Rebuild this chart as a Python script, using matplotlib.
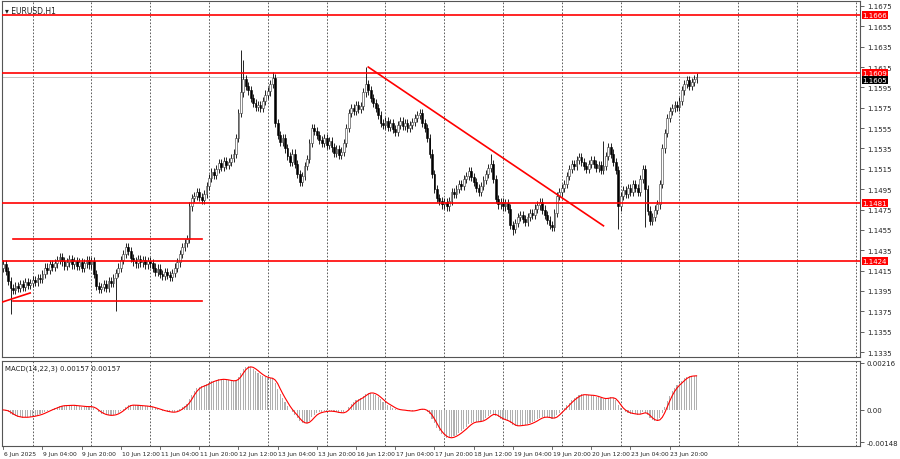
import matplotlib
matplotlib.use("Agg")
import matplotlib.pyplot as plt
import numpy as np
import pandas as pd

closes = [1.1421,1.1415,1.1405,1.1398,1.1396,
1.1400,1.1398,1.1402,1.1399,1.1404,1.1401,1.1403,
1.1406,1.1404,1.1408,1.1407,1.1412,
1.1418,1.1416,1.1421,1.1419,1.1422,1.1425,
1.1428,1.1424,1.1420,1.1423,
1.1426,1.1421,1.1424,1.1420,1.1423,1.1418,1.1422,1.1425,1.1421,1.1424,
1.1412,1.1400,1.1397,1.1399,
1.1402,1.1398,1.1405,1.1403,1.1408,
1.1413,1.1418,1.1425,1.1431,
1.1438,1.1434,1.1427,1.1424,
1.1422,1.1426,1.1423,1.1425,1.1421,1.1424,1.1422,
1.1418,1.1414,1.1417,1.1412,1.1410,1.1414,
1.1411,1.1409,1.1413,1.1418,1.1423,
1.1431,1.1438,1.1442,1.1446,
1.1478,1.1486,1.1488,
1.1492,1.1487,1.1484,1.1490,
1.1498,1.1506,1.1512,1.1509,
1.1515,1.1521,1.1517,1.1523,
1.1519,1.1522,1.1526,1.1530,
1.1545,1.1570,1.1590,
1.1603,1.1596,1.1592,
1.1585,1.1580,1.1576,1.1578,
1.1575,1.1582,1.1588,1.1591,
1.1598,1.1604,
1.1560,1.1548,1.1541,
1.1545,1.1535,1.1528,1.1522,
1.1530,1.1520,1.1510,1.1502,
1.1508,1.1518,1.1525,
1.1540,1.1555,1.1552,
1.1548,1.1543,1.1540,1.1545,1.1538,
1.1542,1.1536,1.1531,1.1534,1.1529,
1.1532,1.1540,1.1555,1.1570,
1.1575,1.1572,1.1578,1.1574,1.1577,
1.1590,1.1598,
1.1592,1.1585,1.1580,1.1575,
1.1568,1.1560,1.1558,
1.1562,1.1556,1.1560,1.1554,1.1551,
1.1558,1.1562,1.1557,1.1560,1.1555,1.1558,
1.1561,1.1565,1.1568,1.1570,
1.1560,1.1555,1.1545,
1.1530,1.1510,1.1495,
1.1486,1.1483,1.1480,1.1482,
1.1478,1.1483,1.1492,1.1490,1.1495,
1.1500,1.1498,1.1505,1.1508,
1.1513,1.1507,1.1502,1.1496,
1.1492,1.1498,1.1504,
1.1510,1.1516,1.1520,
1.1505,1.1485,1.1480,
1.1482,1.1478,1.1481,1.1476,
1.1460,1.1456,1.1462,
1.1468,1.1470,1.1466,1.1463,
1.1468,1.1472,1.1470,1.1476,
1.1479,1.1482,1.1475,
1.1470,1.1465,1.1460,1.1458,
1.1472,1.1488,1.1492,
1.1496,1.1500,1.1508,
1.1515,1.1520,1.1518,
1.1524,1.1527,1.1522,
1.1518,1.1515,1.1520,1.1524,
1.1520,1.1516,1.1519,1.1514,
1.1518,1.1528,1.1536,
1.1530,1.1522,1.1514,
1.1478,1.1488,1.1494,
1.1490,1.1496,1.1492,
1.1500,1.1496,1.1492,
1.1505,1.1515,1.1495,
1.1474,1.1464,1.1468,
1.1475,1.1480,1.1500,
1.1535,1.1550,1.1565,
1.1572,1.1575,1.1578,
1.1576,1.1582,1.1592,
1.1598,1.1602,1.1596,
1.1600,1.1603,1.1605]
first_open = 1.1418
wick = 0.0004
notable_highs = {97: 1.1632, 98: 1.1622, 110: 1.1610, 148: 1.1615, 199: 1.1530, 245: 1.1542}
notable_lows = {3: 1.1372, 46: 1.1375, 208: 1.1450, 262: 1.1458, 251: 1.1456}

levels = [1.1666, 1.1609, 1.1481, 1.1424]
range_lines = [1.1446, 1.1385]
range_span = (4, 81)
trend = [(149, 1.1615), (245, 1.1459)]
last_price = 1.1605
price_ticks = [1.1675,1.1655,1.1635,1.1615,1.1595,1.1575,1.1555,1.1535,1.1515,1.1495,1.1475,1.1455,1.1435,1.1415,1.1395,1.1375,1.1355,1.1335]
time_labels = ["6 Jun 2025","9 Jun 04:00","9 Jun 20:00","10 Jun 12:00","11 Jun 04:00","11 Jun 20:00",
               "12 Jun 12:00","13 Jun 04:00","13 Jun 20:00","16 Jun 12:00","17 Jun 04:00","17 Jun 20:00",
               "18 Jun 12:00","19 Jun 04:00","19 Jun 20:00","20 Jun 12:00","23 Jun 04:00","23 Jun 20:00"]

c = np.array(closes)
n = len(c)
o = np.concatenate([[first_open], c[:-1]])
hi = np.maximum(o, c) + wick
lo = np.minimum(o, c) - wick
for k, v in notable_highs.items():
    if k < n: hi[k] = max(hi[k], v)
for k, v in notable_lows.items():
    if k < n: lo[k] = min(lo[k], v)
idx = np.arange(n)

s = pd.Series(c)
macd = s.ewm(span=14, adjust=False).mean() - s.ewm(span=22, adjust=False).mean()
sig = macd.rolling(3, min_periods=1).mean()

W, H = 900, 460
fig = plt.figure(figsize=(9, 4.6), dpi=100)
xmax = (860 - 2) / 2.45 - 0.5
ax = fig.add_axes([2/W, 1-358/H, 858/W, 356/H])
am = fig.add_axes([2/W, 1-447/H, 858/W, 85/H])

for a in (ax, am):
    a.set_xlim(-0.5, xmax)
    for gx in range(12, int(xmax) + 1, 24):
        a.axvline(gx, color="#444444", lw=0.6, ls=(0, (2, 2)), zorder=0)
    a.tick_params(axis="x", bottom=False, labelbottom=False)
    a.yaxis.tick_right()
    a.tick_params(axis="y", labelsize=5.0, length=3, width=0.5, pad=2, colors="#222222")
    for sp in a.spines.values():
        sp.set_linewidth(0.8); sp.set_color("#555555")

ax.set_ylim(1.1335 - 5/10177, 1.1675 + 5/10177)
ax.set_yticks(price_ticks)
ax.set_yticklabels([f"{p:.4f}" for p in price_ticks])

ax.vlines(idx, lo, hi, color="black", lw=0.6, zorder=2)
up = c >= o
ax.bar(idx[up], (c - o)[up], bottom=o[up], width=0.75, color="white", edgecolor="#333333", lw=0.4, zorder=3)
ax.bar(idx[~up], (c - o)[~up], bottom=o[~up], width=0.75, color="black", edgecolor="black", lw=0.4, zorder=3)

ax.axhline(last_price, color="#bbbbbb", lw=0.6, zorder=1)
for lv in levels:
    ax.axhline(lv, color="red", lw=1.2, zorder=4)
for rl in range_lines:
    ax.plot(range_span, [rl, rl], color="red", lw=1.2, zorder=4)
ax.plot([t[0] for t in trend], [t[1] for t in trend], color="red", lw=1.2, zorder=4)
ax.plot([-0.5, 11], [1.1384, 1.1393], color="red", lw=1.2, zorder=4)

for lv in levels:
    ax.text(1.003, lv, f"{lv:.4f}", transform=ax.get_yaxis_transform(), fontsize=5.0, color="white",
            va="center", ha="left", bbox=dict(boxstyle="square,pad=0.15", fc="red", ec="none"), zorder=6, clip_on=False)
ax.text(1.003, last_price - 0.0003, f"{last_price:.4f}", transform=ax.get_yaxis_transform(), fontsize=5.0, color="white",
        va="center", ha="left", bbox=dict(boxstyle="square,pad=0.15", fc="black", ec="none"), zorder=6, clip_on=False)
ax.text(0.003, 0.985, "\u25be EURUSD,H1", transform=ax.transAxes, fontsize=5.5, va="top", ha="left", color="#222222")

am.set_ylim(-0.00166, 0.00225)
am.set_yticks([0.00216, 0.0, -0.00148])
am.set_yticklabels(["0.00216", "0.00", "-0.00148"])
am.bar(idx, macd.values, width=0.45, color="#b0b0b0", zorder=2)
am.plot(idx, sig.values, color="red", lw=0.8, zorder=3)
am.text(0.003, 0.96, f"MACD(14,22,3) {macd.iloc[-1]:.5f} {sig.iloc[-1]:.5f}", transform=am.transAxes,
        fontsize=5.0, va="top", ha="left", color="#222222")

for k, lab in enumerate(time_labels):
    am.text(k * 16 + 0.3, -0.06, lab, transform=am.get_xaxis_transform(), fontsize=4.3, va="top", ha="left", color="#222222")
    am.plot([k * 16, k * 16], [0, -0.04], transform=am.get_xaxis_transform(), color="#555555", lw=0.6, clip_on=False)

fig.savefig("out.png", dpi=100, facecolor="white")
